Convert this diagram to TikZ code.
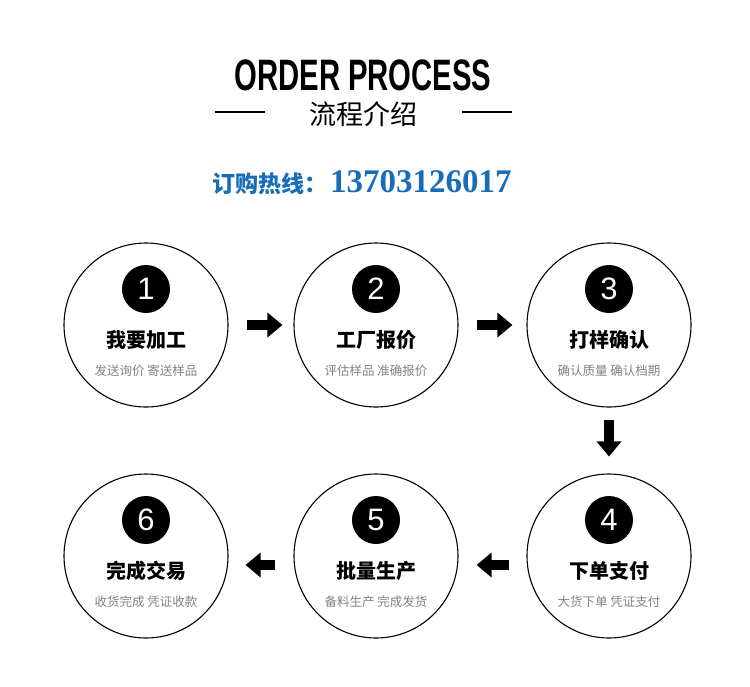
\documentclass[tikz,border=0pt]{standalone}
\usepackage{fontspec}
\setmainfont{Liberation Sans}
\newfontfamily\cjk{Noto Sans CJK SC}
\newfontfamily\digits{Liberation Serif}
\usetikzlibrary{arrows.meta, positioning, calc}
\definecolor{hotblue}{RGB}{24,108,184}
\definecolor{subgray}{RGB}{130,130,130}

\begin{document}
\begin{tikzpicture}[x=1pt, y=-1pt,
    stepbox/.style={draw, circle, minimum size=164pt, line width=1.1pt},
    badge/.style={circle, fill=black, minimum size=48pt, inner sep=0pt, text=white, font=\fontsize{31}{31}\selectfont},
    headline/.style={font=\cjk\bfseries\fontsize{20}{20}\selectfont, inner sep=0pt},
    subline/.style={font=\cjk\fontsize{12.5}{12.5}\selectfont, text=subgray, inner sep=0pt},
    flow/.style={line width=10pt, -{Triangle[length=15pt, width=24pt]}}]
\useasboundingbox (0,0) rectangle (750,686);

% header
\node[font=\bfseries\fontsize{44}{44}\selectfont, inner sep=0pt] (title) at (363,75) {\scalebox{0.665}[1]{ORDER PROCESS}};
\node[font=\cjk\fontsize{27}{27}\selectfont, inner sep=0pt] (subtitle) at (363,114) {流程介绍};
\draw[line width=1.6pt] (215,112) -- (265,112);
\draw[line width=1.6pt] (462,112) -- (512,112);

\node[font=\cjk\bfseries\fontsize{23}{23}\selectfont, text=hotblue, anchor=east, inner sep=0pt] (hotline) at (328,184) {订购热线：};
\node[font=\digits\bfseries\fontsize{33}{33}\selectfont, text=hotblue, anchor=west, inner sep=0pt] (phone) at (330,182) {13703126017};

% the six steps
\node[stepbox] (make)    at (146,325) {};
\node[stepbox] (quote)   at (376,325) {};
\node[stepbox] (sample)  at (609,325) {};
\node[stepbox] (pay)     at (609,556) {};
\node[stepbox] (produce) at (376,556) {};
\node[stepbox] (deal)    at (146,556) {};

\foreach \s/\n/\t/\d in {make/1/我要加工/发送询价 寄送样品,
                        quote/2/工厂报价/评估样品 准确报价,
                        sample/3/打样确认/确认质量 确认档期,
                        pay/4/下单支付/大货下单 凭证支付,
                        produce/5/批量生产/备料生产 完成发货,
                        deal/6/完成交易/收货完成 凭证收款} {
    \node[badge] (\s-num) at ($(\s)+(0,-36)$) {\n};
    \node[headline] (\s-head) at ($(\s)+(0,15)$) {\t};
    \node[subline] (\s-text) at ($(\s)+(0,46)$) {\d};
}

% arrows between steps
\draw[flow, shorten <=18pt, shorten >=11pt] (make.east) -- (quote.west);
\draw[flow, shorten <=18pt, shorten >=14pt] (quote.east) -- (sample.west);
\draw[flow, shorten <=12pt, shorten >=17pt] (sample.south) -- (pay.north);
\draw[flow, shorten <=17pt, shorten >=18pt] ($(pay.west)+(0,9)$) -- ($(produce.east)+(0,9)$);
\draw[flow, shorten <=18pt, shorten >=17pt] ($(produce.west)+(0,9)$) -- ($(deal.east)+(0,9)$);

\end{tikzpicture}
\end{document}
